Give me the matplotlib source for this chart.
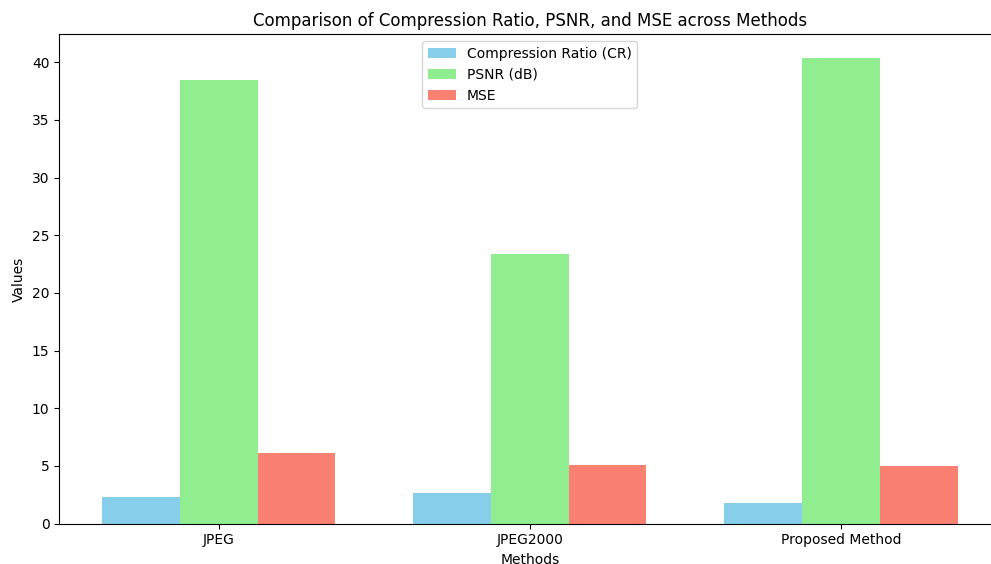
import numpy as np
import matplotlib
matplotlib.use("Agg")
import matplotlib.pyplot as plt

methods = ["JPEG", "JPEG2000", "Proposed Method"]
cr_values = [2.34, 2.62, 1.76]
psnr_values = [38.5, 23.4, 40.4]
mse_values = [6.1, 5.1, 5.02]

x = np.arange(len(methods))
width = 0.25

fig = plt.figure(figsize=(9.91, 5.64), dpi=100)
# the original is cropped: right spine sits just past the image edge
ax = fig.add_axes([0.0598, 0.0715, 0.9496, 0.8677])
ax.bar(x - width, cr_values, width, label="Compression Ratio (CR)", color="skyblue")
ax.bar(x, psnr_values, width, label="PSNR (dB)", color="lightgreen")
ax.bar(x + width, mse_values, width, label="MSE", color="salmon")

ax.set_xlabel("Methods")
ax.set_ylabel("Values")
ax.set_title("Comparison of Compression Ratio, PSNR, and MSE across Methods")
ax.set_xticks(x)
ax.set_xticklabels(methods)
ax.legend(loc="upper center")

plt.savefig("out.png", dpi=100)
